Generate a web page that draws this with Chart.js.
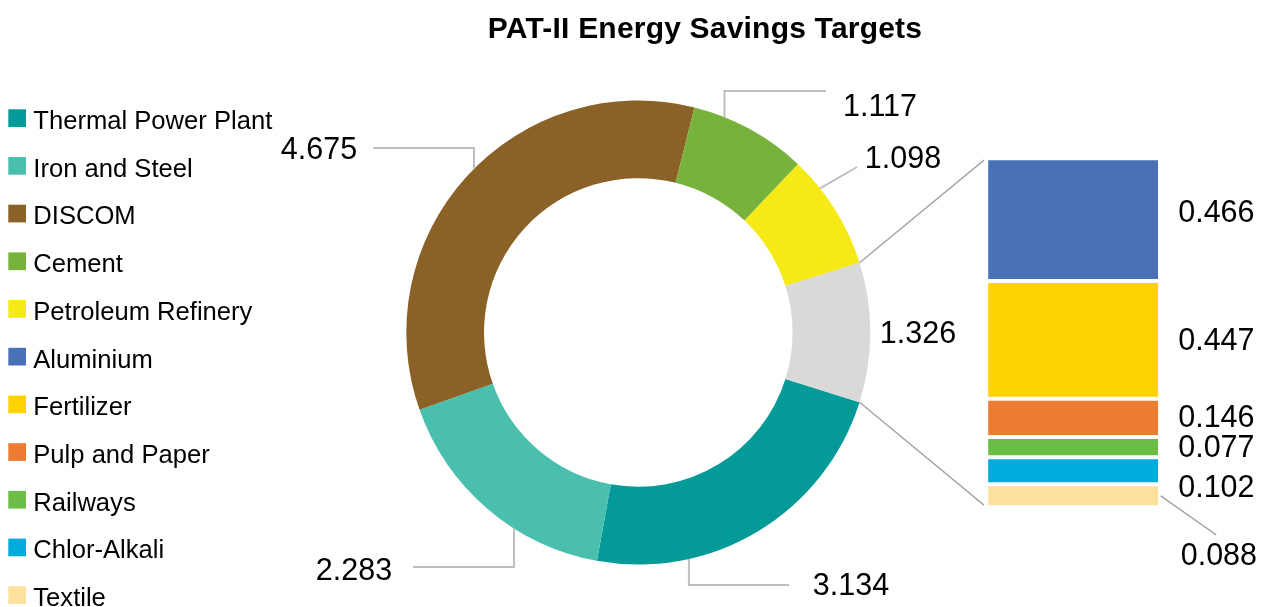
<!DOCTYPE html>
<html>
<head>
<meta charset="utf-8">
<script src="https://cdn.jsdelivr.net/npm/chart.js@4.4.1/dist/chart.umd.min.js"></script>
<style>
  body { margin: 0; background: #fff; }
  #wrap { position: relative; width: 1261px; height: 607px; }
  canvas { position: absolute; }
</style>
</head>
<body>
<div id="wrap">
  <canvas id="pieCanvas" width="1261" height="607" style="left:0;top:0"></canvas>
  <canvas id="barCanvas" width="321" height="460" style="left:940px;top:130px"></canvas>
</div>
<script>
// doughnut slices (the last one is the "other" part broken out in the bar)
const pieLabels = ['Thermal Power Plant', 'Iron and Steel', 'DISCOM', 'Cement', 'Petroleum Refinery', 'Other'];
const pieValues = [3.134, 2.283, 4.675, 1.117, 1.098, 1.326];
const pieColors = ['#049a98', '#4abfae', '#8a6127', '#77b23c', '#f5e918', '#d9d9d8'];

// stacked bar, top to bottom
const barLabels = ['Aluminium', 'Fertilizer', 'Pulp and Paper', 'Railways', 'Chlor-Alkali', 'Textile'];
const barValues = [0.466, 0.447, 0.146, 0.077, 0.102, 0.088];
const barColors = ['#4a71b6', '#fed300', '#ec7c31', '#6cbd45', '#00acdb', '#fde19d'];

const TITLE = 'PAT-II Energy Savings Targets';
const FONT = "'Liberation Sans', Arial, sans-serif";
const BAR_LEFT = 940, BAR_TOP = 130;

// label placement (page px) and leader start points; leaders end on the ring at angle (deg from top)
const pieLabelPos = [
  { x: 851, y: 584, from: [789, 585], angle: 167.4, elbow: true },
  { x: 354, y: 569, from: [413, 567], angle: 212.4, elbow: true },
  { x: 319, y: 148, from: [373, 148], angle: 314.9, elbow: true },
  { x: 880, y: 105, from: [826, 91], angle: 21.8, elbow: true },
  { x: 903, y: 157, from: [857, 167], angle: 51.6, elbow: false },
  { x: 918, y: 332 }
];
// vertical nudges of bar value labels from segment centre
const barLabelDy = [-9, -1, -1.5, -1, 15.5, 58];

const valueFont = '30.5px ' + FONT;

const barText = {
  id: 'barText',
  afterDatasetsDraw(chart) {
    const { ctx } = chart;
    const n = chart.data.datasets.length;
    ctx.save();
    ctx.font = valueFont;
    ctx.fillStyle = '#000';
    ctx.textAlign = 'left';
    ctx.textBaseline = 'alphabetic';
    for (let d = 0; d < n; d++) {
      const el = chart.getDatasetMeta(d).data[0];
      const i = n - 1 - d;
      const right = el.x + el.width / 2;
      const mid = (el.y + el.base) / 2;
      let lx = right + 20;
      if (i === n - 1) {
        // last segment label sits below with a leader
        ctx.strokeStyle = '#a6a6a6';
        ctx.lineWidth = 1.5;
        ctx.beginPath();
        ctx.moveTo(right + 2.5, mid);
        ctx.lineTo(right + 58, mid + 39);
        ctx.stroke();
        lx = right + 22.5;
      }
      ctx.fillText(barValues[i].toFixed(3), lx, mid + barLabelDy[i] + 10.9);
    }
    ctx.restore();
  }
};

const stackOrder = barLabels.map((_, i) => barLabels.length - 1 - i);

const barChart = new Chart(document.getElementById('barCanvas'), {
  type: 'bar',
  data: {
    labels: [''],
    datasets: stackOrder.map(i => ({
      label: barLabels[i],
      data: [barValues[i]],
      backgroundColor: barColors[i],
      borderColor: '#ffffff',
      borderWidth: { top: 2.35, bottom: 2.35, left: 0, right: 0 },
      borderSkipped: false,
      barThickness: 170
    }))
  },
  options: {
    responsive: false,
    animation: false,
    layout: { padding: { left: 48, right: 102.6, top: 28.35, bottom: 82.65 } },
    scales: {
      x: { display: false, stacked: true },
      y: { display: false, stacked: true, min: 0, max: pieValues[pieValues.length - 1] }
    },
    plugins: { legend: { display: false }, tooltip: { enabled: false } }
  },
  plugins: [barText]
});

const pieDecor = {
  id: 'pieDecor',
  afterDraw(chart) {
    const { ctx } = chart;
    const arcs = chart.getDatasetMeta(0).data;
    const cx = arcs[0].x, cy = arcs[0].y, R = arcs[0].outerRadius;

    ctx.save();
    // title
    ctx.fillStyle = '#000';
    ctx.font = 'bold 30px ' + FONT;
    ctx.textAlign = 'center';
    ctx.textBaseline = 'alphabetic';
    ctx.letterSpacing = '0.2px';
    ctx.fillText(TITLE, 705, 38);
    ctx.letterSpacing = '0px';

    // legend
    const legNames = pieLabels.slice(0, -1).concat(barLabels);
    const legColors = pieColors.slice(0, -1).concat(barColors);
    ctx.font = '25.6px ' + FONT;
    ctx.textAlign = 'left';
    legNames.forEach((name, i) => {
      const top = 109.3 + i * 47.7;
      ctx.fillStyle = legColors[i];
      ctx.fillRect(8.3, top, 17.7, 17.7);
      ctx.fillStyle = '#000';
      ctx.fillText(name, 33.3, top + 19.7);
    });

    // leader lines
    ctx.strokeStyle = '#bfbfbf';
    ctx.lineWidth = 2;
    pieLabelPos.forEach(p => {
      if (!p.from) return;
      const a = p.angle * Math.PI / 180;
      const ex = cx + R * Math.sin(a), ey = cy - R * Math.cos(a);
      ctx.beginPath();
      ctx.moveTo(p.from[0], p.from[1]);
      if (p.elbow) ctx.lineTo(ex, p.from[1]);
      ctx.lineTo(ex, ey);
      ctx.stroke();
    });

    // value labels
    ctx.font = valueFont;
    ctx.fillStyle = '#000';
    ctx.textAlign = 'center';
    pieLabelPos.forEach((p, i) => {
      ctx.fillText(pieValues[i].toFixed(3), p.x, p.y + 10.9);
    });

    // connectors from the "other" slice to the bar
    const other = arcs[arcs.length - 1];
    const topEl = barChart.getDatasetMeta(barChart.data.datasets.length - 1).data[0];
    const botEl = barChart.getDatasetMeta(0).data[0];
    const barX = BAR_LEFT + topEl.x - topEl.width / 2 - 4.2;
    ctx.strokeStyle = '#a6a6a6';
    ctx.lineWidth = 1.5;
    ctx.beginPath();
    ctx.moveTo(cx + R * Math.cos(other.startAngle), cy + R * Math.sin(other.startAngle));
    ctx.lineTo(barX, BAR_TOP + topEl.y + 1.7);
    ctx.moveTo(cx + R * Math.cos(other.endAngle), cy + R * Math.sin(other.endAngle));
    ctx.lineTo(barX, BAR_TOP + botEl.base - 2.3);
    ctx.stroke();
    ctx.restore();
  }
};

const total = pieValues.reduce((s, v) => s + v, 0);
const otherSweep = pieValues[pieValues.length - 1] / total * 360;

new Chart(document.getElementById('pieCanvas'), {
  type: 'doughnut',
  data: {
    labels: pieLabels,
    datasets: [{
      data: pieValues,
      backgroundColor: pieColors,
      borderWidth: 0
    }]
  },
  options: {
    responsive: false,
    animation: false,
    cutout: '66.5%',
    rotation: 90 + otherSweep / 2,
    layout: { padding: { left: 406.3, right: 390.7, top: 100.5, bottom: 42.5 } },
    plugins: { legend: { display: false }, tooltip: { enabled: false }, title: { display: false } }
  },
  plugins: [pieDecor]
});
</script>
</body>
</html>
